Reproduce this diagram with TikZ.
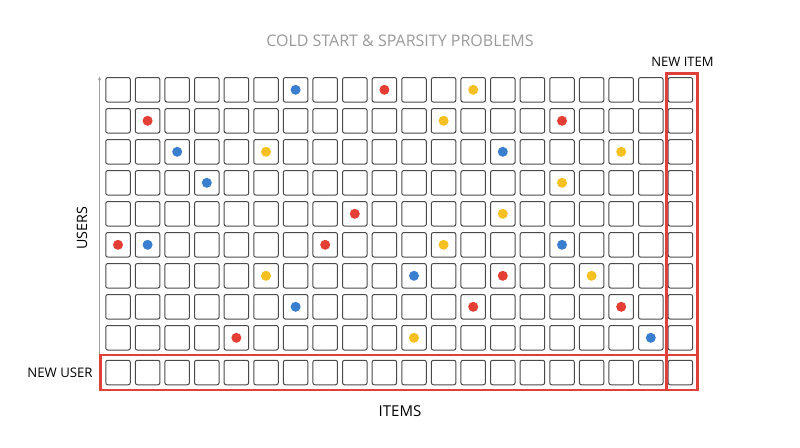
\documentclass[tikz,border=0pt]{standalone}
\usepackage{fontspec}
\usetikzlibrary{arrows.meta}
\setmainfont{Open Sans}
\definecolor{cellgray}{HTML}{4A4A4A}
\definecolor{framered}{HTML}{E0403A}
\definecolor{dotred}{HTML}{E53E35}
\definecolor{dotblue}{HTML}{3A7FCF}
\definecolor{dotyellow}{HTML}{F5C020}
\definecolor{titlegray}{HTML}{9A9A9A}
\definecolor{axisgray}{HTML}{A0A0A0}
\tikzset{
  cell/.style={draw=cellgray, line width=1pt, rounded corners=2pt, minimum width=24.5pt, minimum height=24.5pt, inner sep=0pt},
  dot/.style={circle, inner sep=0pt, minimum size=10pt},
  frame/.style={draw=framered, line width=2.6pt},
  lbl/.style={text=black},
}
\begin{document}
\begin{tikzpicture}[x=1pt,y=-1pt]
\useasboundingbox (0,0) rectangle (800,447);
% cells
\foreach \r in {1,...,9}{
  \foreach \c in {1,...,20}{
    \node[cell] (c-\r-\c) at ({118+(\c-1)*29.6},{89.8+(\r-1)*31}) {};
  }
}
\foreach \c in {1,...,20}{
  \node[cell] (c-10-\c) at ({118+(\c-1)*29.6},372.5) {};
}
% axis
\coordinate (axtop) at (99.5,76);
\coordinate (axbot) at (99.5,356);
\draw[axisgray, line width=0.7pt, -{Latex[length=4pt,width=3pt]}] (axbot) -- (axtop);
% dots
\foreach \r/\c/\col in {1/7/dotblue,1/10/dotred,1/13/dotyellow,
  2/2/dotred,2/12/dotyellow,2/16/dotred,
  3/3/dotblue,3/6/dotyellow,3/14/dotblue,3/18/dotyellow,
  4/4/dotblue,4/16/dotyellow,
  5/9/dotred,5/14/dotyellow,
  6/1/dotred,6/2/dotblue,6/8/dotred,6/12/dotyellow,6/16/dotblue,
  7/6/dotyellow,7/11/dotblue,7/14/dotred,7/17/dotyellow,
  8/7/dotblue,8/13/dotred,8/18/dotred,
  9/5/dotred,9/11/dotyellow,9/19/dotblue}{
  \node[dot, fill=\col] at (c-\r-\c.center) {};
}
% frames
\coordinate (nu1) at (100.5,355);
\coordinate (nu2) at (697.5,390);
\coordinate (ni1) at (666.5,73.5);
\draw[frame] (nu1) rectangle (nu2);
\draw[frame] (ni1) rectangle (nu2);
% labels
\node[font=\fontsize{16}{18}\selectfont, text=titlegray] (title) at (400,41) {COLD START \& SPARSITY PROBLEMS};
\node[lbl, font=\fontsize{13}{15}\selectfont] (newitem) at (682.5,62) {NEW ITEM};
\node[lbl, font=\fontsize{13.2}{15}\selectfont] (newuser) at (60,373) {NEW USER};
\node[lbl, font=\fontsize{14.3}{16}\selectfont, rotate=90] (users) at (82,228) {USERS};
\node[lbl, font=\fontsize{15}{17}\selectfont] (items) at (400,411) {ITEMS};
\end{tikzpicture}
\end{document}
